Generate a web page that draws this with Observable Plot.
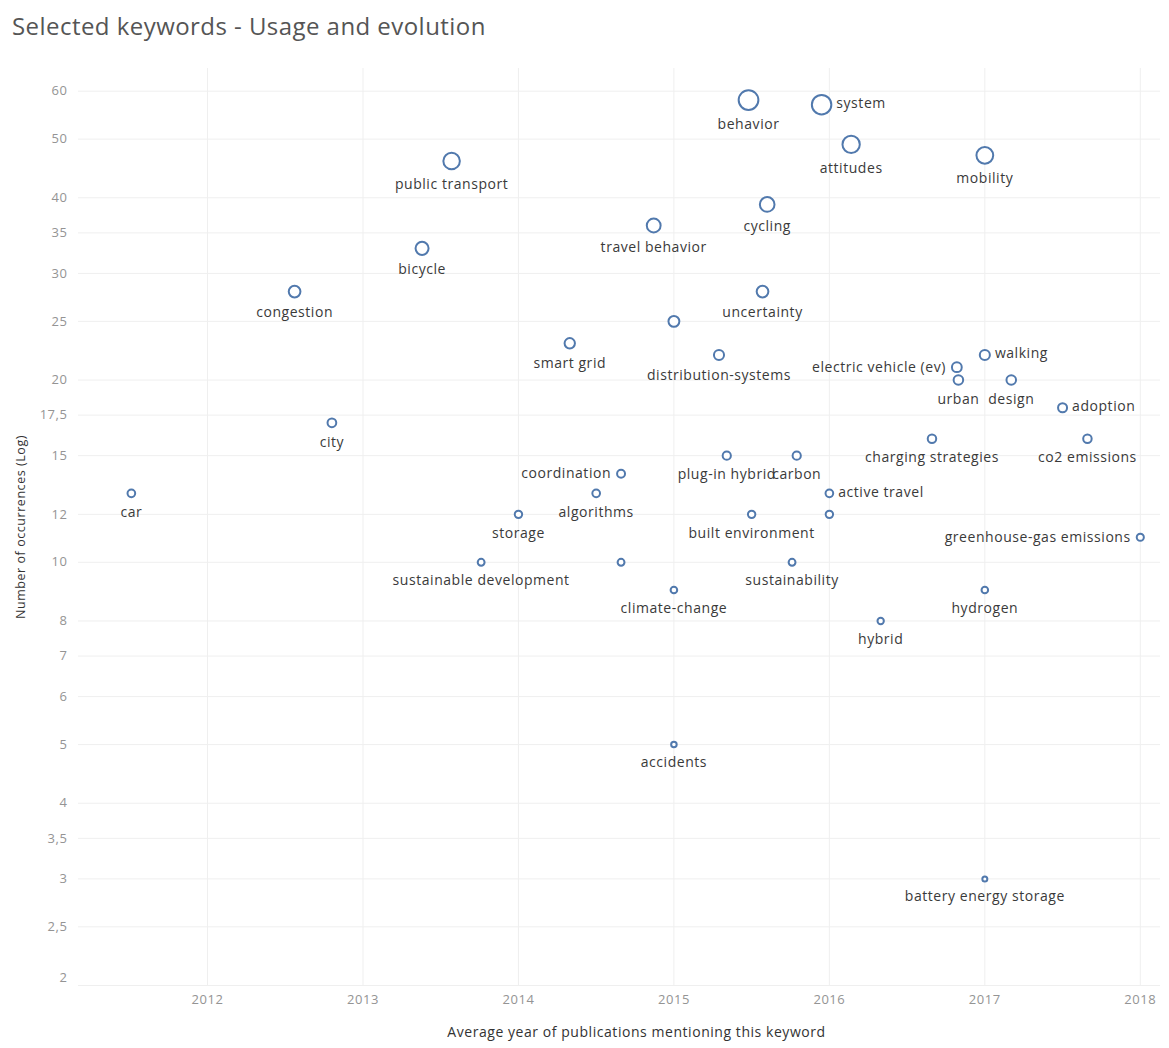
<!DOCTYPE html>
<html><head><meta charset="utf-8">
<script src="https://cdn.jsdelivr.net/npm/d3@7"></script>
<script src="https://cdn.jsdelivr.net/npm/@observablehq/plot@0.6"></script>
<style>
body{margin:0;background:#fff;font-family:"Open Sans",sans-serif;}
#title{height:48px;box-sizing:border-box;padding:11px 0 0 12px;font-size:24px;letter-spacing:0.45px;color:#555;line-height:30px;}
#chart svg{display:block;}
#chart svg text{letter-spacing:0.55px;}
</style></head><body>
<div id="title">Selected keywords - Usage and evolution</div>
<div id="chart"></div>
<script>
const keywords = ["behavior","system","attitudes","mobility","public transport","cycling","travel behavior","bicycle","congestion","uncertainty","smart grid","","distribution-systems","electric vehicle (ev)","walking","urban","design","adoption","city","charging strategies","co2 emissions","plug-in hybrid","carbon","coordination","car","algorithms","active travel","storage","built environment","","greenhouse-gas emissions","sustainable development","","sustainability","climate-change","hydrogen","hybrid","accidents","battery energy storage"];
const years = [2015.48,2015.95,2016.14,2017.0,2013.57,2015.60,2014.87,2013.38,2012.56,2015.57,2014.33,2015.0,2015.29,2016.82,2017.0,2016.83,2017.17,2017.50,2012.80,2016.66,2017.66,2015.34,2015.79,2014.66,2011.51,2014.50,2016.0,2014.0,2015.50,2016.0,2018.0,2013.76,2014.66,2015.76,2015.0,2017.0,2016.33,2015.0,2017.0];
const counts = [58,57,49,47,46,39,36,33,28,28,23,25,22,21,22,20,20,18,17,16,16,15,15,14,13,13,13,12,12,12,11,10,10,10,9,9,8,5,3];
const labelPos = ["below","right","below","below","below","below","below","below","below","below","below","none","below","left","right","below","below","right","below","below","below","below","below","left","below","below","right","below","below","none","left","below","none","below","below","below","below","below","below"];
const yTicks = [2,2.5,3,3.5,4,5,6,7,8,10,12,15,17.5,20,25,30,35,40,50,60];
const xTicks = [2012,2013,2014,2015,2016,2017,2018];

const data = keywords.map((k,i)=>({keyword:k, year:years[i], count:counts[i], pos:labelPos[i]}));
const rDomain = [3,59], rRange = [2.5,10];
const rScale = d3.scaleLinear(rDomain, rRange);
const stroke = "#5179ad";
const labelFill = "#3a3a3a";
const commaFmt = d=>String(d).replace(".",",");

const labelMarks = data.filter(d=>d.pos!=="none").map(d=>{
  const r = rScale(d.count);
  if (d.pos==="below") return Plot.text([d],{x:"year",y:"count",text:"keyword",dy:r+15,fontSize:14,fill:labelFill,textAnchor:"middle"});
  if (d.pos==="right") return Plot.text([d],{x:"year",y:"count",text:"keyword",dx:r+5,dy:-1,fontSize:14,fill:labelFill,textAnchor:"start"});
  return Plot.text([d],{x:"year",y:"count",text:"keyword",dx:-(r+6),dy:0,fontSize:14,fill:labelFill,textAnchor:"end"});
});

const chart = Plot.plot({
  width:1169, height:1000,
  marginLeft:78, marginRight:9, marginTop:20, marginBottom:63,
  style:{fontFamily:"'Open Sans', sans-serif", background:"#fff"},
  x:{domain:[2011.17,2018.13]},
  y:{type:"log", domain:[2,65.4]},
  r:{type:"linear", domain:rDomain, range:rRange},
  marks:[
    Plot.gridX(xTicks,{stroke:"#efefef", strokeOpacity:1}),
    Plot.gridY(yTicks,{stroke:"#efefef", strokeOpacity:1}),
    Plot.axisX(xTicks,{tickSize:0, tickPadding:9, fontSize:13, fill:"#949494", tickFormat:d=>String(d), label:null}),
    Plot.axisY(yTicks.slice(1),{tickSize:0, tickPadding:11, fontSize:13, fill:"#949494", tickFormat:commaFmt, label:null}),
    Plot.axisY(yTicks.slice(0,1),{tickSize:0, tickPadding:11, dy:-8, fontSize:13, fill:"#949494", tickFormat:commaFmt, label:null}),
    Plot.text(["Average year of publications mentioning this keyword"],{frameAnchor:"bottom", dy:51, dx:17, fontSize:14, fill:"#333", textAnchor:"middle", text:d=>d}),
    Plot.text(["Number of occurrences (Log)"],{frameAnchor:"left", dx:-58, rotate:-90, fontSize:12.5, fill:"#333", textAnchor:"middle", text:d=>d}),
    Plot.dot(data,{x:"year", y:"count", r:"count", stroke:stroke, strokeWidth:2, fill:"white"}),
    ...labelMarks
  ]
});
document.getElementById("chart").appendChild(chart);
</script>
</body></html>
